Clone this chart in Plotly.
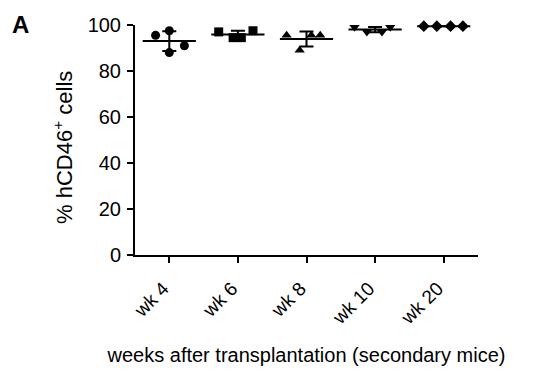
import numpy as np
import plotly.graph_objects as go

categories = ["wk 4", "wk 6", "wk 8", "wk 10", "wk 20"]
values = [
    [95.5, 97.5, 88.0, 91.0],
    [97.0, 94.5, 94.5, 97.5],
    [95.5, 89.0, 95.5, 95.5],
    [99.0, 97.0, 97.0, 99.0],
    [99.5, 99.5, 99.5, 99.5],
]
jitter = [
    [-0.2, 0.0, 0.0, 0.22],
    [-0.28, -0.07, 0.05, 0.22],
    [-0.29, -0.1, 0.07, 0.2],
    [-0.3, -0.12, 0.1, 0.22],
    [-0.29, -0.1, 0.1, 0.28],
]
symbols = ["circle", "square", "triangle-up", "triangle-down", "diamond"]

font = "Liberation Sans, Arial, sans-serif"
W, H = 535, 379
L, R, T, B = 135, 57, 25, 124
pw, ph = W - L - R, H - T - B

fig = go.Figure()

for i, (cat, vals) in enumerate(zip(categories, values)):
    xs = [i + j for j in jitter[i]]
    fig.add_trace(go.Scatter(
        x=xs, y=vals, mode="markers",
        marker=dict(symbol=symbols[i], size=9, color="black"),
        cliponaxis=False, showlegend=False))
    m = float(np.mean(vals))
    sd = float(np.std(vals, ddof=1))
    fig.add_trace(go.Scatter(
        x=[i], y=[m], mode="markers",
        marker=dict(symbol="line-ew", size=38, line=dict(width=2, color="black")),
        error_y=dict(type="data", array=[sd], visible=True, width=7,
                     thickness=2, color="black"),
        cliponaxis=False, showlegend=False))

fig.update_layout(
    width=W, height=H,
    margin=dict(l=L, r=R, t=T, b=B),
    paper_bgcolor="white", plot_bgcolor="white",
    font=dict(family=font, size=20, color="black"),
    xaxis=dict(
        range=[-0.5, 4.5], tickmode="array", tickvals=list(range(5)),
        ticktext=categories, tickangle=-45, showline=True, linecolor="black",
        linewidth=2, ticks="outside", ticklen=6, tickwidth=2, tickcolor="black",
        showgrid=False, zeroline=False, ticklabelstandoff=7, ticklabelshift=-6,
        title=dict(text="weeks after transplantation (secondary mice)",
                   font=dict(size=20), standoff=20),
        tickfont=dict(size=19),
    ),
    yaxis=dict(
        range=[0, 100], tickvals=[0, 20, 40, 60, 80, 100], showline=True,
        linecolor="black", linewidth=2, ticks="outside", ticklen=6,
        tickwidth=2, tickcolor="black", showgrid=False, zeroline=False,
        tickfont=dict(size=20), ticklabelstandoff=2,
    ),
)
fig.add_annotation(text="% hCD46<sup>+</sup> cells", xref="paper", yref="paper",
                   x=(63 - L) / pw, y=1 - (148 - T) / ph, textangle=-90,
                   xanchor="center", yanchor="middle", showarrow=False,
                   font=dict(size=22))
fig.add_annotation(text="<b>A</b>", xref="paper", yref="paper",
                   x=(10 - L) / pw, y=1 + (T - 9) / ph,
                   xanchor="left", yanchor="top", showarrow=False,
                   font=dict(size=24))
fig.write_html("out.html")
